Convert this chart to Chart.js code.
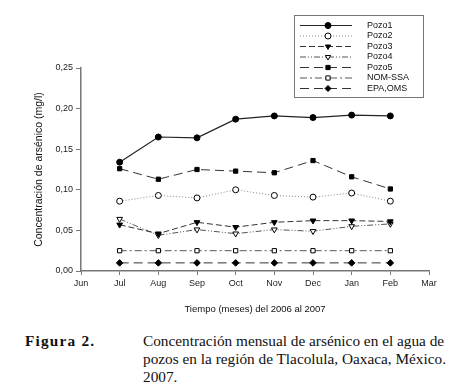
<!DOCTYPE html>
<html lang="es">
<head>
<meta charset="UTF-8">
<title>Concentración de arsénico</title>
<script src="https://cdn.jsdelivr.net/npm/chart.js"></script>
<style>
    body {
        margin: 0;
        padding: 0;
        background: #fff;
        width: 453px;
        height: 391px;
        position: relative;
        overflow: hidden;
    }
    #wrap {
        position: absolute;
        left: 0;
        top: 0;
        width: 453px;
        height: 320px;
    }
    .cap {
        position: absolute;
        font-family: "Liberation Serif", "Times New Roman", serif;
        font-size: 15.3px;
        line-height: 18px;
        color: #111;
    }
    #figLabel {
        left: 25px;
        top: 332px;
        font-weight: bold;
        letter-spacing: 1.2px;
    }
    #figText {
        left: 143px;
        top: 332px;
        width: 310px;
        white-space: nowrap;
    }
</style>
</head>
<body>
<div id="wrap"><canvas id="chart" width="453" height="320"></canvas></div>
<div class="cap" id="figLabel">Figura 2.</div>
<div class="cap" id="figText">Concentración mensual de arsénico en el agua de<br>pozos en la región de Tlacolula, Oaxaca, México.<br>2007.</div>

<script>
// meses (Jun y Mar solo como extremos del eje)
const months = ['Jun', 'Jul', 'Aug', 'Sep', 'Oct', 'Nov', 'Dec', 'Jan', 'Feb', 'Mar'];

// valores, Jul..Feb (mg/l)
const pozo1 = [0.134, 0.165, 0.164, 0.187, 0.191, 0.189, 0.192, 0.191];
const pozo2 = [0.086, 0.093, 0.090, 0.100, 0.093, 0.091, 0.096, 0.086];
const pozo3 = [0.057, 0.046, 0.060, 0.054, 0.060, 0.062, 0.062, 0.061];
const pozo4 = [0.064, 0.044, 0.051, 0.046, 0.051, 0.049, 0.055, 0.058];
const pozo5 = [0.126, 0.113, 0.125, 0.123, 0.121, 0.136, 0.116, 0.101];
const nomSsa = [0.025, 0.025, 0.025, 0.025, 0.025, 0.025, 0.025, 0.025];
const epaOms = [0.010, 0.010, 0.010, 0.010, 0.010, 0.010, 0.010, 0.010];

const yTicks = [0, 0.05, 0.10, 0.15, 0.20, 0.25];

// rellenar Jun y Mar con null
function pad(arr) {
    return [null].concat(arr, [null]);
}

function serie(label, data, opts) {
    return Object.assign({
        label: label,
        data: pad(data),
        borderColor: '#333',
        borderWidth: 1,
        pointRadius: 3,
        pointBorderWidth: 1,
        pointBorderColor: '#000',
        pointBackgroundColor: '#000',
        fill: false,
        tension: 0,
        spanGaps: false
    }, opts);
}

const datasets = [
    serie('Pozo1', pozo1, { borderColor: '#222', borderWidth: 1.2, pointStyle: 'circle' }),
    serie('Pozo2', pozo2, { borderColor: '#888', borderDash: [1, 2], pointStyle: 'circle', pointBackgroundColor: '#fff' }),
    serie('Pozo3', pozo3, { borderDash: [6, 3], pointStyle: 'triangle', pointRotation: 180, pointRadius: 3.3 }),
    serie('Pozo4', pozo4, { borderColor: '#555', borderDash: [6, 2, 1, 2, 1, 2], pointStyle: 'triangle', pointRotation: 180, pointRadius: 3.3, pointBackgroundColor: '#fff' }),
    serie('Pozo5', pozo5, { borderDash: [9, 5], pointStyle: 'rect' }),
    serie('NOM-SSA', nomSsa, { borderColor: '#555', borderDash: [7, 3, 2, 3], pointStyle: 'rect', pointBackgroundColor: '#fff' }),
    serie('EPA,OMS', epaOms, { borderDash: [9, 5], pointStyle: 'rectRot', pointRadius: 3.3 })
];

// leyenda en caja, dibujada a mano
const boxLegend = {
    id: 'boxLegend',
    afterDraw(chart) {
        const ctx = chart.ctx;
        const x0 = 294, y0 = 15, w = 129, h = 82;
        ctx.save();
        ctx.strokeStyle = '#777';
        ctx.lineWidth = 1;
        ctx.strokeRect(x0 + 0.5, y0 + 0.5, w, h);
        ctx.font = '9px Arial, "Liberation Sans", sans-serif';
        ctx.textAlign = 'left';
        ctx.textBaseline = 'middle';
        chart.data.datasets.forEach((ds, i) => {
            const y = 25.5 + i * 10.5;
            ctx.strokeStyle = ds.borderColor;
            ctx.lineWidth = 1;
            ctx.setLineDash(ds.borderDash || []);
            ctx.beginPath();
            ctx.moveTo(300, y);
            ctx.lineTo(352, y);
            ctx.stroke();
            ctx.setLineDash([]);
            ctx.fillStyle = ds.pointBackgroundColor;
            ctx.strokeStyle = '#000';
            ctx.lineWidth = 1;
            Chart.helpers.drawPoint(ctx, {
                pointStyle: ds.pointStyle,
                radius: 3,
                rotation: ds.pointRotation || 0,
                borderWidth: 1
            }, 328, y);
            ctx.fillStyle = '#111';
            ctx.textAlign = 'left';
            ctx.fillText(ds.label, 367, y);
        });
        ctx.restore();
    }
};

const tickFont = { family: 'Arial, "Liberation Sans", sans-serif', size: 9 };

new Chart(document.getElementById('chart'), {
    type: 'line',
    data: { labels: months, datasets: datasets },
    options: {
        responsive: false,
        animation: false,
        devicePixelRatio: 1,
        layout: { padding: { top: 68, right: 24, left: 0, bottom: 0 } },
        plugins: {
            legend: { display: false },
            tooltip: { enabled: false }
        },
        scales: {
            x: {
                type: 'category',
                offset: false,
                border: { color: '#777', width: 1.5 },
                grid: { drawOnChartArea: false, drawTicks: true, tickLength: 4, color: '#777' },
                ticks: { font: tickFont, color: '#222', padding: 3, maxRotation: 0, autoSkip: false },
                title: {
                    display: true,
                    text: 'Tiempo (meses) del 2006 al 2007',
                    font: { family: 'Arial, "Liberation Sans", sans-serif', size: 9.5 },
                    color: '#111',
                    padding: { top: 0, bottom: 5 }
                },
                afterFit(scale) { scale.height = 49; }
            },
            y: {
                min: 0,
                max: 0.25,
                afterBuildTicks(scale) {
                    scale.ticks = yTicks.map(v => ({ value: v }));
                },
                border: { color: '#777', width: 1.5 },
                grid: { drawOnChartArea: false, drawTicks: true, tickLength: 5, color: '#777' },
                ticks: {
                    font: tickFont,
                    color: '#222',
                    padding: 3,
                    callback: v => v.toFixed(2).replace('.', ',')
                },
                title: {
                    display: true,
                    text: 'Concentración de arsénico (mg/l)',
                    font: { family: 'Arial, "Liberation Sans", sans-serif', size: 10.5 },
                    color: '#111',
                    padding: { top: 33, bottom: 0 }
                },
                afterFit(scale) { scale.width = 81; }
            }
        }
    },
    plugins: [boxLegend]
});
</script>
</body>
</html>
